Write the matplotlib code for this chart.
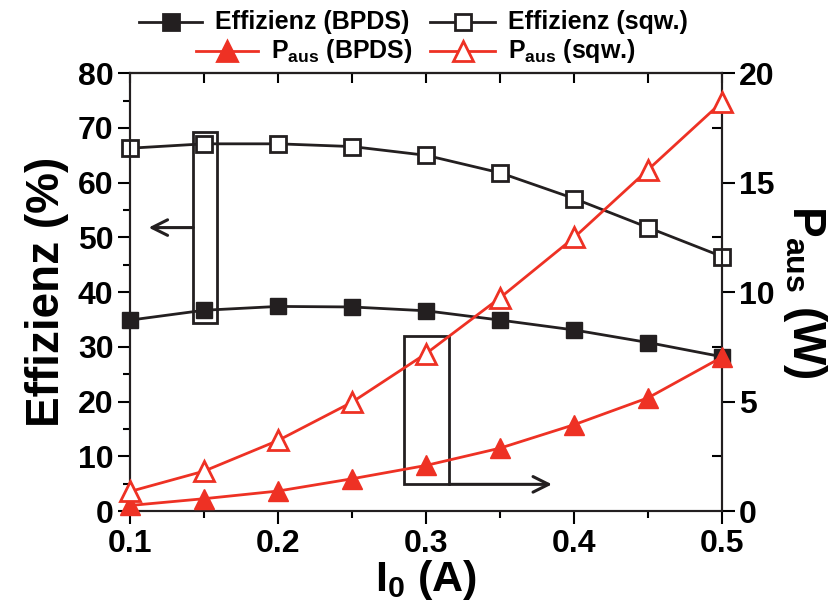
import matplotlib
matplotlib.use("Agg")
import matplotlib.pyplot as plt
from matplotlib.patches import Rectangle
from matplotlib.ticker import MultipleLocator
from matplotlib.lines import Line2D

plt.rcParams['font.family'] = ['Liberation Sans', 'DejaVu Sans']
plt.rcParams['font.weight'] = 'bold'
plt.rcParams['mathtext.default'] = 'regular'

# Pump current I0 (A)
current = [0.10, 0.15, 0.20, 0.25, 0.30, 0.35, 0.40, 0.45, 0.50]
# Efficiency (%)
eff_bpds = [34.9, 36.7, 37.4, 37.3, 36.6, 34.9, 33.1, 30.8, 28.2]
eff_sqw = [66.3, 67.1, 67.1, 66.6, 65.0, 61.8, 57.1, 51.8, 46.5]
# Output power (W)
p_bpds = [0.26, 0.57, 0.92, 1.48, 2.09, 2.88, 3.95, 5.18, 7.04]
p_sqw = [0.9, 1.83, 3.23, 4.98, 7.2, 9.75, 12.5, 15.6, 18.7]

labels = ['Effizienz (BPDS)', 'Effizienz (sqw.)',
          r'P$_{aus}$ (BPDS)', r'P$_{aus}$ (sqw.)']

black = '#231f20'
red = '#ee3124'
W, H = 834, 610
fig = plt.figure(figsize=(W / 100, H / 100), dpi=100)
ax = fig.add_axes([0.156, 0.162, 0.710, 0.718])
ax2 = ax.twinx()

lw = 2.0
ms_sq = 11.5
ms_tri = 14.5
ax.plot(current, eff_bpds, '-s', color=black, lw=lw, ms=ms_sq,
        mfc=black, mec=black, clip_on=False, zorder=3)
ax.plot(current, eff_sqw, '-s', color=black, lw=lw, ms=ms_sq,
        mfc='white', mec=black, mew=2, clip_on=False, zorder=3)
ax2.plot(current, p_bpds, '-^', color=red, lw=lw, ms=ms_tri,
         mfc=red, mec=red, clip_on=False, zorder=3)
ax2.plot(current, p_sqw, '-^', color=red, lw=lw, ms=ms_tri,
         mfc='white', mec=red, mew=2, clip_on=False, zorder=3)

ax.set_xlim(0.1, 0.5)
ax.set_ylim(0, 80)
ax2.set_ylim(0, 20)

ax.xaxis.set_major_locator(MultipleLocator(0.1))
ax.xaxis.set_minor_locator(MultipleLocator(0.05))
ax.yaxis.set_major_locator(MultipleLocator(10))
ax.yaxis.set_minor_locator(MultipleLocator(5))
ax2.yaxis.set_major_locator(MultipleLocator(5))
ax2.yaxis.set_minor_locator(MultipleLocator(2.5))

tick_fs = 23
ax.tick_params(axis='x', which='major', direction='out', length=9, width=1.5,
               labelsize=tick_fs, pad=4, top=False)
ax.tick_params(axis='x', which='minor', direction='out', length=5, width=1.5, top=False)
ax.tick_params(axis='y', which='major', direction='out', length=9, width=1.5,
               labelsize=tick_fs, pad=3)
ax.tick_params(axis='y', which='minor', direction='out', length=5, width=1.5)
ax2.tick_params(axis='y', which='major', direction='out', length=9, width=1.5,
                labelsize=tick_fs, pad=3)
ax2.tick_params(axis='y', which='minor', direction='in', length=7, width=1.5)

# top spine ticks pointing inward
sec = ax.secondary_xaxis('top')
sec.xaxis.set_major_locator(MultipleLocator(0.05))
sec.tick_params(direction='in', length=7, width=1.5, labeltop=False)
sec.spines['top'].set_linewidth(1.5)

for a in (ax, ax2):
    for s in a.spines.values():
        s.set_linewidth(1.5)
        s.set_color(black)

ax.set_xlabel(r'I$_0$ (A)', fontsize=31, fontweight='bold', labelpad=-1)
ax.set_ylabel('Effizienz (%)', fontsize=33, fontweight='bold', labelpad=6)
ax2.set_ylabel(r'P$_{aus}$ (W)', fontsize=33, fontweight='bold',
               rotation=270, labelpad=39)

# annotation boxes with arrows pointing to the respective axis
ax.add_patch(Rectangle((0.1426, 34.3), 0.0161, 35.0, fill=False,
                       lw=2.0, ec=black, zorder=4))
ax.add_patch(Rectangle((0.2851, 4.9), 0.0304, 27.1, fill=False,
                       lw=2.0, ec=black, zorder=4))
ax.annotate('', xy=(0.1125, 51.8), xytext=(0.1426, 51.8),
            arrowprops=dict(arrowstyle='->', lw=2.2, color=black,
                            mutation_scale=28, shrinkA=0, shrinkB=0))
ax.annotate('', xy=(0.385, 4.9), xytext=(0.3155, 4.9),
            arrowprops=dict(arrowstyle='->', lw=2.2, color=black,
                            mutation_scale=28, shrinkA=0, shrinkB=0))

# legend drawn as handle + text pairs, first column right-aligned
leg_fs = 18
entries = [
    # (label, color, marker, ms, filled, handle x0, handle x1, y) in pixels from top-left
    (labels[0], black, 's', ms_sq, True, 139, 202, 22),
    (labels[1], black, 's', ms_sq, False, 430, 495, 22),
    (labels[2], red, '^', ms_tri, True, 196, 258, 51),
    (labels[3], red, '^', ms_tri, False, 430, 495, 51),
]
for text, col, mk, msz, filled, x0, x1, y in entries:
    fy = 1 - y / H
    fig.add_artist(Line2D([x0 / W, x1 / W], [fy, fy], color=col, lw=lw,
                          transform=fig.transFigure))
    fig.add_artist(Line2D([(x0 + x1) / 2 / W], [fy], color=col, marker=mk,
                          ms=msz, mfc=col if filled else 'white', mec=col,
                          mew=2, transform=fig.transFigure))
    fig.text((x1 + 13) / W, fy, text, fontsize=leg_fs, fontweight='bold',
             va='center', ha='left')

fig.savefig('out.png', dpi=100)
